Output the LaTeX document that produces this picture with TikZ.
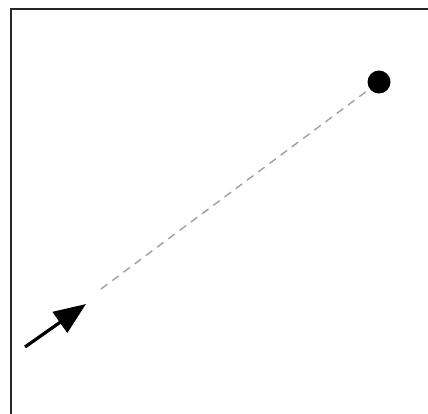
\documentclass[tikz,border=0pt]{standalone}
\usetikzlibrary{arrows.meta}
\begin{document}
\begin{tikzpicture}[x=1pt,y=-1pt,
  frameline/.style={line width=2.2pt,black!85},
  path line/.style={gray!75,line width=1.4pt,dash pattern=on 8pt off 6pt},
  push arrow/.style={line width=3.2pt,-{Triangle[length=32pt 0,width=25pt 0]}},
  ball/.style={circle,fill=black,inner sep=0pt,minimum size=23pt}]
\useasboundingbox (0,0) rectangle (428,414);
\coordinate (frameTR) at (430,9);
\coordinate (frameTL) at (11,9);
\coordinate (frameBL) at (11,416);
\draw[frameline] (frameTR) -- (frameTL) -- (frameBL);
\node[ball] (dot) at (379,82) {};
\coordinate (tail) at (25,347);
\coordinate (tip) at (86,304);
\coordinate (start) at (101,289);
\draw[path line] (start) -- (dot);
\draw[push arrow] (tail) -- (tip);
\end{tikzpicture}
\end{document}
